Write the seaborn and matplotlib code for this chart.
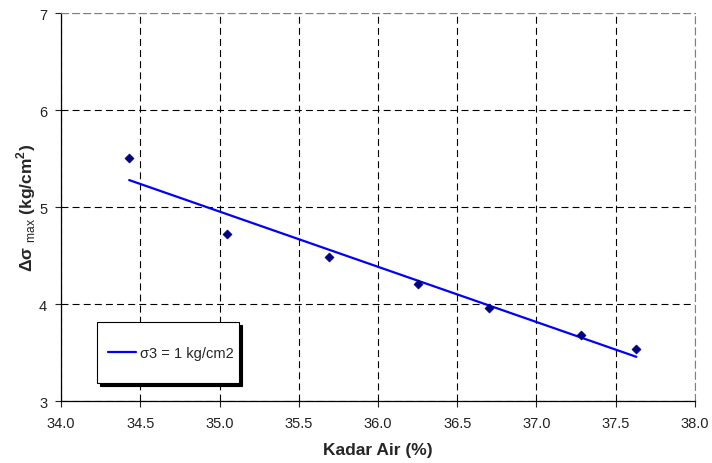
import numpy as np
import matplotlib
matplotlib.use("Agg")
import matplotlib.pyplot as plt
import seaborn as sns
from matplotlib.legend_handler import HandlerLine2D

# Data
kadar_air = [34.43, 35.05, 35.69, 36.25, 36.70, 37.28, 37.63]
delta_sigma = [5.51, 4.72, 4.49, 4.21, 3.96, 3.68, 3.54]
legend_label = "σ3 = 1 kg/cm2"
x_ticks = [34.0, 34.5, 35.0, 35.5, 36.0, 36.5, 37.0, 37.5, 38.0]
y_ticks = [3, 4, 5, 6, 7]


class CenteredLine(HandlerLine2D):
    # keep the legend line level with the text when the handle box is tall
    def create_artists(self, legend, orig_handle, xdescent, ydescent,
                       width, height, fontsize, trans):
        arts = super().create_artists(legend, orig_handle, xdescent, ydescent,
                                      width, height, fontsize, trans)
        for a in arts:
            xd = np.asarray(a.get_xdata(), dtype=float)
            a.set_ydata(np.full_like(xd, 0.33 * fontsize))
        return arts


sns.set_style("white")
plt.rcParams["font.family"] = ["Liberation Sans", "DejaVu Sans"]
plt.rcParams["mathtext.fontset"] = "custom"
plt.rcParams["mathtext.rm"] = "Liberation Sans"
plt.rcParams["mathtext.bf"] = "Liberation Sans:bold"
plt.rcParams["lines.scale_dashes"] = False

fig = plt.figure(figsize=(7.12, 4.64), dpi=100)
ax = fig.add_axes([0.0857, 0.1336, 0.8904, 0.8352])

# linear trendline
coef = np.polyfit(kadar_air, delta_sigma, 1)
fit_x = np.array([min(kadar_air), max(kadar_air)])
fit_y = np.polyval(coef, fit_x)

sns.lineplot(x=fit_x, y=fit_y, ax=ax, color="#0000FF", linewidth=1.6,
             label=legend_label, zorder=3)
sns.scatterplot(x=kadar_air, y=delta_sigma, ax=ax, marker="D", s=22,
                color="#000080", edgecolor="#000080", zorder=4)

ax.set_xlim(34.0, 38.0)
ax.set_ylim(3, 7)
ax.set_xticks(x_ticks)
ax.set_xticklabels([f"{t:.1f}" for t in x_ticks])
ax.set_yticks(y_ticks)

ax.grid(True, color="black", linestyle=(0, (5, 3)), linewidth=0.8)
ax.tick_params(axis="both", direction="out", length=4, width=0.8,
               labelsize=10.5, colors="#222222", left=True, bottom=True)
ax.tick_params(axis="x", pad=7)
ax.tick_params(axis="y", pad=6)
for side in ["left", "bottom"]:
    ax.spines[side].set_color("black")
    ax.spines[side].set_linewidth(0.9)
for side in ["top", "right"]:
    ax.spines[side].set_color("#808080")
    ax.spines[side].set_linewidth(0.8)
    ax.spines[side].set_linestyle((0, (5, 3)))

ax.set_xlabel("Kadar Air (%)", fontsize=12.5, fontweight="bold")
ax.set_ylabel(r"Δσ $_{\mathrm{max}}$ (kg/cm$^{\mathbf{2}}$)", fontsize=12.5,
              fontweight="bold")
ax.xaxis.set_label_coords(0.5, -0.106)
ax.yaxis.set_label_coords(-0.037, 0.5)

handles, labels = ax.get_legend_handles_labels()
leg = ax.legend(handles[:1], labels[:1], loc="lower left",
                bbox_to_anchor=(0.0568, 0.046, 0.224, 0.157), mode="expand",
                fontsize=10.5, frameon=True, fancybox=False,
                shadow={"color": "black", "alpha": 1},
                borderpad=0.75, handleheight=3.75, handlelength=1.92,
                handletextpad=0.27, borderaxespad=0,
                handler_map={handles[0]: CenteredLine()})
leg.get_frame().set_edgecolor("black")
leg.get_frame().set_linewidth(0.8)

fig.savefig("out.png", dpi=100)
